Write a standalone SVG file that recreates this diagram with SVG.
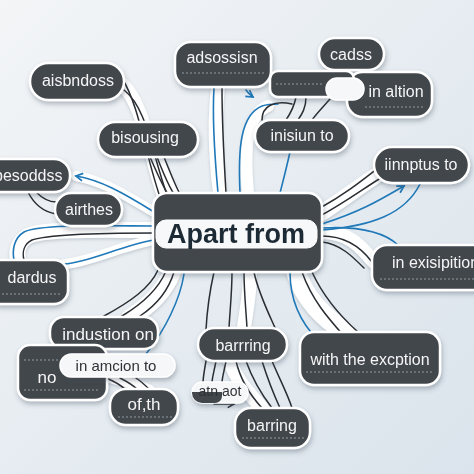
<svg xmlns="http://www.w3.org/2000/svg" width="474" height="474" viewBox="0 0 474 474">
<defs>
<linearGradient id="bg" x1="0" y1="0" x2="1" y2="1">
<stop offset="0" stop-color="#f3f5f7"/>
<stop offset="0.5" stop-color="#e6ecf1"/>
<stop offset="1" stop-color="#dbe4ec"/>
</linearGradient>
<filter id="sh" x="-20%" y="-20%" width="140%" height="160%">
<feDropShadow dx="1" dy="3" stdDeviation="2.5" flood-color="#3a4a5a" flood-opacity="0.35"/>
</filter>
<filter id="rs" x="-20%" y="-20%" width="140%" height="140%">
<feDropShadow dx="0" dy="1.5" stdDeviation="1.5" flood-color="#5a6a7a" flood-opacity="0.3"/>
</filter>
<marker id="ab" viewBox="0 0 10 10" refX="8" refY="5" markerWidth="6" markerHeight="6" orient="auto">
<path d="M1,1 L8,5 L1,9" fill="none" stroke="#1f78b8" stroke-width="1.8"/>
</marker>
<marker id="ak" viewBox="0 0 10 10" refX="8" refY="5" markerWidth="6" markerHeight="6" orient="auto">
<path d="M1,1 L8,5 L1,9" fill="none" stroke="#2a2e33" stroke-width="1.8"/>
</marker>
<style>
.n{fill:#42464c;stroke:#ffffff;stroke-width:2.5}
.w{fill:#f6f7f8;stroke:#ffffff;stroke-width:1.5}
.t{font-family:"Liberation Sans",Arial,sans-serif;font-size:16px;fill:#f5f5f5;text-anchor:middle}
.td{font-family:"Liberation Sans",Arial,sans-serif;font-size:15px;fill:#2f3338;text-anchor:middle}
.d{fill:none;stroke:#9aa4ad;stroke-width:0.9;stroke-dasharray:2 2}
.rib{fill:none;stroke:#ffffff;stroke-linecap:round}
.k{fill:none;stroke:#2a2e33;stroke-width:1.5;stroke-linecap:round}
.b{fill:none;stroke:#1f78b8;stroke-width:1.6;stroke-linecap:round}
</style>
</defs>
<rect x="0" y="0" width="474" height="474" fill="url(#bg)"/>

<g id="connectors">
<g filter="url(#rs)">
<path class="rib" stroke-width="14" d="M164,196 C148,150 144,105 122,84"/>
<path class="rib" stroke-width="14" d="M156,157 C163,175 168,185 174,194"/>
<path class="rib" stroke-width="10" d="M154,212 C120,192 100,180 76,176"/>
<path class="rib" stroke-width="16" d="M154,230 C110,230 45,228 28,236 C18,242 16,252 18,260"/>
<path class="rib" stroke-width="10" d="M154,240 C120,246 90,262 64,264"/>
<path class="rib" stroke-width="14" d="M218,88 C214,120 216,160 220,193"/>
<path class="rib" stroke-width="12" d="M248,193 C244,150 246,115 268,106"/>
<path class="rib" stroke-width="16" d="M320,214 C345,198 362,184 382,172"/>
<path class="rib" stroke-width="14" d="M322,232 C350,232 362,248 374,262"/>
<path class="rib" stroke-width="18" d="M172,272 C164,292 150,305 130,318"/>
<path class="rib" stroke-width="14" d="M250,272 C250,295 246,312 244,328"/>
<path class="rib" stroke-width="20" d="M296,272 C305,300 325,318 345,332"/>
<path class="rib" stroke-width="14" d="M230,361 C236,380 250,395 262,408"/>
<path class="rib" stroke-width="10" d="M110,378 C125,382 140,385 150,390"/>
</g>

<!-- top-left to aisbndoss -->
<path class="k" d="M160,197 C144,150 140,108 122,78"/>
<path class="k" d="M167,195 C151,150 147,108 124,90"/>
<!-- bisousing to center -->
<path class="k" d="M150,157 C158,175 162,185 168,194"/>
<path class="k" d="M157,157 C164,175 168,185 174,194"/>
<path class="k" d="M164,157 C170,172 175,185 180,194"/>
<!-- to esoddss -->
<path class="b" d="M154,212 C122,192 100,180 76,176" marker-end="url(#ab)"/>
<path class="k" d="M28,192 C34,204 44,212 56,214"/>
<path class="k" d="M36,192 C42,198 48,202 56,202"/>
<!-- to left / dardus -->
<path class="b" d="M154,226 C110,226 40,224 24,232 C14,238 12,250 14,260"/>
<path class="k" d="M154,233 C110,233 50,234 32,240 C24,244 22,252 24,260"/>
<path class="b" d="M154,240 C120,246 90,262 64,264"/>
<!-- top: adsossisn -->
<path class="b" d="M214,88 C212,120 215,160 218,193"/>
<path class="k" d="M222,88 C222,115 224,160 226,193"/>
<path class="b" d="M246,90 C248,93 250,95 253,97" marker-end="url(#ab)"/>
<path class="b" d="M240,193 C238,150 240,115 262,106 C268,104 272,104 278,104"/>
<!-- inisiun to -->
<path class="b" d="M290,152 C286,170 282,185 280,193"/>
<path class="k" d="M296,97 C294,108 290,114 286,120"/>
<path class="k" d="M306,97 C306,108 302,114 298,120"/>
<path class="k" d="M330,99 C322,108 316,114 312,120"/>
<path class="k" d="M262,120 C262,106 274,100 292,104"/>
<path class="k" d="M334,70 L330,80"/>
<path class="k" d="M342,70 L338,80"/>
<!-- iinnptus to -->
<path class="k" d="M320,208 C345,194 360,182 378,168"/>
<path class="k" d="M320,216 C346,202 364,188 384,176"/>
<path class="b" d="M322,224 C360,212 380,200 404,186" marker-end="url(#ab)"/>
<path class="b" d="M322,230 C372,226 405,214 420,184"/>
<!-- in exisipition -->
<path class="b" d="M322,228 C360,226 384,232 398,245"/>
<path class="k" d="M322,236 C345,236 360,246 372,262"/>
<path class="k" d="M322,242 C340,244 352,256 364,268"/>
<!-- bottom: barrring -->
<path class="k" d="M244,272 C244,292 246,310 247,328"/>
<path class="k" d="M254,272 C258,292 268,312 276,330"/>
<path class="k" d="M214,272 C210,290 207,310 206,330"/>
<path class="k" d="M232,272 C232,292 230,310 229,328"/>
<!-- with the exception -->
<path class="b" d="M290,272 C290,300 300,322 318,340"/>
<path class="k" d="M302,272 C312,300 328,318 344,336"/>
<path class="k" d="M312,272 C324,298 340,316 358,332"/>
<!-- industion on -->
<path class="k" d="M158,270 C150,288 130,302 104,316"/>
<path class="k" d="M166,271 C158,290 142,304 122,316"/>
<path class="k" d="M174,272 C168,292 155,306 140,316"/>
<path class="b" d="M184,274 C180,300 165,330 146,354"/>
<!-- in amcion to / of,th -->
<path class="k" d="M106,378 C116,382 122,386 126,390"/>
<path class="k" d="M120,378 C128,382 134,386 138,390"/>
<path class="k" d="M136,378 C142,382 146,386 150,390"/>
<!-- barrring to barring -->
<path class="k" d="M206,361 C204,372 203,378 203,383"/>
<path class="k" d="M216,361 C214,372 212,378 212,383"/>
<path class="k" d="M226,361 C224,372 222,378 222,383"/>
<path class="k" d="M236,361 C240,378 250,395 262,408"/>
<path class="k" d="M246,361 C252,378 262,395 272,408"/>
<path class="k" d="M262,361 C268,380 274,395 280,408"/>
<path class="k" d="M272,361 C280,380 288,395 292,408"/>
<path class="k" d="M214,404 C222,404 228,404 234,404" marker-end="url(#ak)"/>
</g>

<g id="n-aisbndoss" filter="url(#sh)">
<rect class="n" x="30" y="63" width="94" height="37" rx="18.5"/>
<text class="t" x="78" y="86">aisbndoss</text>
</g>
<g id="n-adsossisn" filter="url(#sh)">
<rect class="n" x="175" y="42" width="96" height="45" rx="16"/>
<line class="d" x1="182" y1="73" x2="265" y2="73"/>
<text class="t" x="222" y="63">adsossisn</text>
</g>
<g id="n-cadss" filter="url(#sh)">
<rect class="n" x="319" y="38" width="65" height="32" rx="16"/>
<text class="t" x="351" y="60">cadss</text>
</g>
<g id="n-in-altion" filter="url(#sh)">
<rect class="n" x="347" y="72" width="85" height="45" rx="16"/>
<line class="d" x1="365" y1="107" x2="425" y2="107"/>
<rect class="n" x="270" y="71" width="84" height="26" rx="8"/>
<line class="d" x1="276" y1="84" x2="322" y2="84"/>
<rect class="w" x="326" y="78" width="38" height="22" rx="11"/>
<text class="t" x="396" y="97">in altion</text>
</g>
<g id="n-bisousing" filter="url(#sh)">
<rect class="n" x="98" y="122" width="100" height="35" rx="17.5"/>
<text class="t" x="145" y="143">bisousing</text>
</g>
<g id="n-inisiun" filter="url(#sh)">
<rect class="n" x="255" y="120" width="94" height="32" rx="16"/>
<text class="t" x="302" y="141">inisiun to</text>
</g>
<g id="n-iinnptus" filter="url(#sh)">
<rect class="n" x="374" y="147" width="95" height="36" rx="18"/>
<text class="t" x="421" y="170">iinnptus to</text>
</g>
<g id="n-esoddss" filter="url(#sh)">
<rect class="n" x="-20" y="159" width="90" height="33" rx="16"/>
<text class="t" x="-6" y="181" style="text-anchor:start">besoddss</text>
</g>
<g id="n-airthes" filter="url(#sh)">
<rect class="n" x="55" y="193" width="67" height="33" rx="16.5"/>
<text class="t" x="89" y="215">airthes</text>
</g>
<g id="n-center" filter="url(#sh)">
<rect class="n" x="153" y="193" width="169" height="79" rx="14"/>
<rect x="156" y="220" width="161" height="28" rx="10" fill="#f7f8f9" stroke="#ffffff" stroke-width="1"/>
<text x="236" y="243" style="font-family:'Liberation Sans',Arial,sans-serif;font-size:27px;font-weight:bold;fill:#1f2a36;text-anchor:middle">Apart from</text>
</g>
<g id="n-dardus" filter="url(#sh)">
<rect class="n" x="-15" y="260" width="83" height="44" rx="14"/>
<line class="d" x1="2" y1="294" x2="60" y2="294"/>
<text class="t" x="32" y="283">dardus</text>
</g>
<g id="n-exisipition" filter="url(#sh)">
<rect class="n" x="372" y="245" width="120" height="45" rx="15"/>
<line class="d" x1="380" y1="279" x2="474" y2="279"/>
<text class="t" x="392" y="268" style="text-anchor:start">in exisipition</text>
</g>
<g id="n-industion" filter="url(#sh)">
<rect class="n" x="50" y="317" width="108" height="32" rx="14"/>
<text class="t" x="108" y="340" style="font-size:17px">industion on</text>
</g>
<g id="n-no" filter="url(#sh)">
<rect class="n" x="18" y="345" width="89" height="55" rx="12"/>
<line class="d" x1="24" y1="360" x2="60" y2="360"/>
<line class="d" x1="24" y1="390" x2="100" y2="390"/>
<text class="t" x="47" y="383" style="font-size:17px">no</text>
</g>
<g id="n-amcion" filter="url(#sh)">
<rect class="w" x="60" y="354" width="115" height="23" rx="11.5"/>
<text class="td" x="116" y="371">in amcion to</text>
</g>
<g id="n-ofth" filter="url(#sh)">
<rect class="n" x="110" y="389" width="68" height="36" rx="16"/>
<line class="d" x1="118" y1="417" x2="172" y2="417"/>
<text class="t" x="144" y="410" style="font-size:17px">of,th</text>
</g>
<g id="n-barrring" filter="url(#sh)">
<rect class="n" x="198" y="328" width="89" height="33" rx="16.5"/>
<text class="t" x="243" y="351">barrring</text>
</g>
<g id="n-atnaot" filter="url(#sh)">
<rect class="w" x="192" y="382" width="56" height="21" rx="10.5"/>
<path d="M192,392 H222 V396 A7,7 0 0 1 215,403 H202 A10,10 0 0 1 192,393 Z" fill="#42464c"/>
<text class="td" x="220" y="396" style="font-size:14px">atn aot</text>
</g>
<g id="n-barring" filter="url(#sh)">
<rect class="n" x="235" y="408" width="75" height="40" rx="16"/>
<line class="d" x1="242" y1="438" x2="304" y2="438"/>
<text class="t" x="272" y="431">barring</text>
</g>
<g id="n-exception" filter="url(#sh)">
<rect class="n" x="300" y="332" width="140" height="53" rx="14"/>
<line class="d" x1="306" y1="372" x2="434" y2="372"/>
<text class="t" x="370" y="365">with the excption</text>
</g>
</svg>
